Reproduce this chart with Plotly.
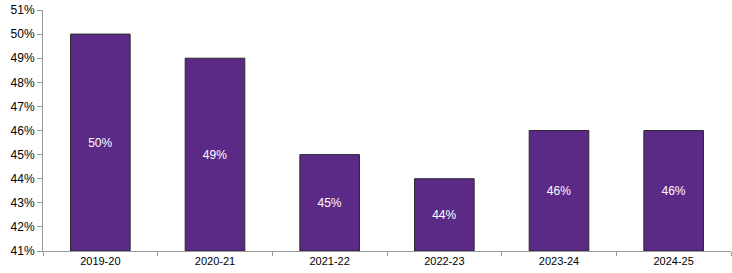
import plotly.graph_objects as go

categories = ["2019-20", "2020-21", "2021-22", "2022-23", "2023-24", "2024-25"]
values = [50, 49, 45, 44, 46, 46]
labels = [f"{v}%" for v in values]
base_value = 41

fig = go.Figure(go.Bar(
    x=categories,
    y=[v - base_value for v in values],
    base=base_value,
    text=labels,
    textposition="inside",
    insidetextanchor="middle",
    textfont=dict(color="white", size=12, family="Liberation Sans"),
    marker=dict(color="#5B2A86", line=dict(color="#2b2b2b", width=1)),
    hoverinfo="skip",
))

fig.update_layout(
    width=732, height=273,
    margin=dict(l=43, r=1, t=10, b=22),
    plot_bgcolor="white", paper_bgcolor="white",
    bargap=0.48,
    showlegend=False,
    font=dict(family="Liberation Sans", size=11, color="#000"),
    uniformtext=dict(minsize=12, mode="show"),
)
fig.update_xaxes(
    type="category",
    showline=True, linecolor="#999", linewidth=1,
    ticks="outside", ticklen=4, tickcolor="#999",
    tickson="boundaries",
    showgrid=False,
    tickfont=dict(size=11, color="#000"),
)
fig.update_yaxes(
    range=[41, 51],
    dtick=1,
    ticksuffix="%",
    showline=True, linecolor="#999", linewidth=1,
    ticks="outside", ticklen=5, tickcolor="#999",
    showgrid=False, zeroline=False,
    tickfont=dict(size=12, color="#000"),
)

fig.write_html("out.html")
